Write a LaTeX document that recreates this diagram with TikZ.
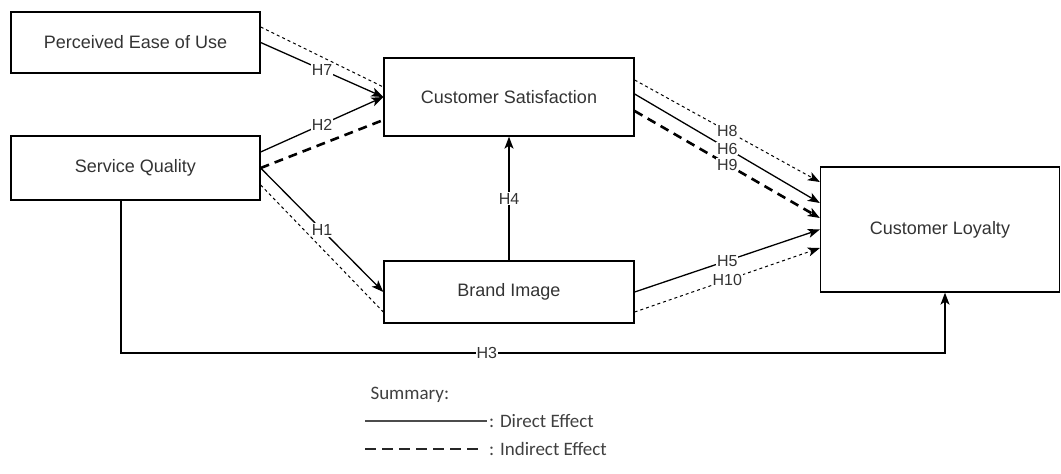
\documentclass[tikz,border=0pt]{standalone}
\usepackage{fontspec}
\setmainfont{Liberation Sans}
\newfontfamily\legendfont{Carlito}
\usetikzlibrary{calc}
\usetikzlibrary{arrows.meta}

\tikzset{
  box/.style={draw, line width=1.3pt, text=black!80,
    font=\fontsize{18}{20}\selectfont, inner sep=0pt},
  hlab/.style={fill=white, inner sep=1pt, text=black!80,
    font=\fontsize{16}{18}\selectfont},
  tip/.style={-{Stealth[length=12pt,width=9pt,inset=3pt]}},
  direct/.style={line width=1.3pt},
  indirect/.style={line width=2.6pt, dash pattern=on 9pt off 6pt},
  dotline/.style={line width=1pt, dash pattern=on 3pt off 3pt},
}

\begin{document}
\begin{tikzpicture}[x=1pt, y=-1pt]
    \useasboundingbox (0, 0) rectangle (1061, 474);

    % constructs
    \node[box, minimum width=249pt, minimum height=61pt] (peu) at (135.5, 42.5) {Perceived Ease of Use};
    \node[box, minimum width=249pt, minimum height=64pt] (sq) at (135.5, 168) {Service Quality};
    \node[box, minimum width=250pt, minimum height=78pt] (cs) at (509, 97) {Customer Satisfaction};
    \node[box, minimum width=250pt, minimum height=62pt] (bi) at (509, 292) {Brand Image};
    \node[box, minimum width=239pt, minimum height=125pt] (cl) at (940, 229.5) {Customer Loyalty};

    % into customer satisfaction
    \draw[dotline] ($(peu.east)+(0, -15.5)$) -- ($(cs.west)+(0, -10)$);
    \draw[direct, tip] (peu.east) -- node[hlab] {H7} (cs.west);
    \draw[direct, tip] ($(sq.east)+(0, -16)$) -- node[hlab] {H2} (cs.west);
    \draw[indirect] (sq.east) -- ($(cs.west)+(0, 23)$);

    % into brand image
    \draw[direct, tip] (sq.east) -- node[hlab] {H1} (bi.west);
    \draw[dotline] ($(sq.east)+(0, 17)$) -- ($(bi.west)+(0, 20)$);
    \draw[direct, tip] (bi.north) -- node[hlab] {H4} (cs.south);

    % into customer loyalty
    \draw[dotline, tip] ($(cs.east)+(0, -17)$) -- node[hlab] {H8} ($(cl.west)+(0, -47.5)$);
    \draw[direct, tip] ($(cs.east)+(0, -3)$) -- node[hlab] {H6} ($(cl.west)+(0, -26.5)$);
    \draw[indirect, tip] ($(cs.east)+(0, 14)$) -- node[hlab] {H9} ($(cl.west)+(0, -11.5)$);
    \draw[direct, tip] (bi.east) -- node[hlab] {H5} (cl.west);
    \draw[dotline, tip] ($(bi.east)+(0, 20)$) -- node[hlab] {H10} ($(cl.west)+(0, 18.5)$);

    \coordinate (h3a) at (121, 353);
    \coordinate (h3b) at (945, 353);
    \draw[direct, tip] (sq.south -| h3a) -- (h3a) -- node[hlab, pos=0.444] {H3} (h3b) -- (cl.south -| h3b);

    % summary
    \node[anchor=west, text=black!75, font=\legendfont\fontsize{19}{21}\selectfont] (sum) at (367, 395) {Summary:};
    \coordinate (d1) at (365, 421);
    \coordinate (d2) at (487, 421);
    \coordinate (i1) at (365, 449);
    \coordinate (i2) at (480, 449);
    \draw[line width=2pt, black!70] (d1) -- (d2);
    \draw[line width=2.4pt, black!85, dash pattern=on 11pt off 6pt] (i1) -- (i2);
    \node[anchor=west, text=black!75, font=\legendfont\fontsize{19}{21}\selectfont, inner sep=0pt] (dtxt) at (489, 421) {: Direct Effect};
    \node[anchor=west, text=black!75, font=\legendfont\fontsize{19}{21}\selectfont, inner sep=0pt] (itxt) at (489, 449) {: Indirect Effect};
\end{tikzpicture}
\end{document}
